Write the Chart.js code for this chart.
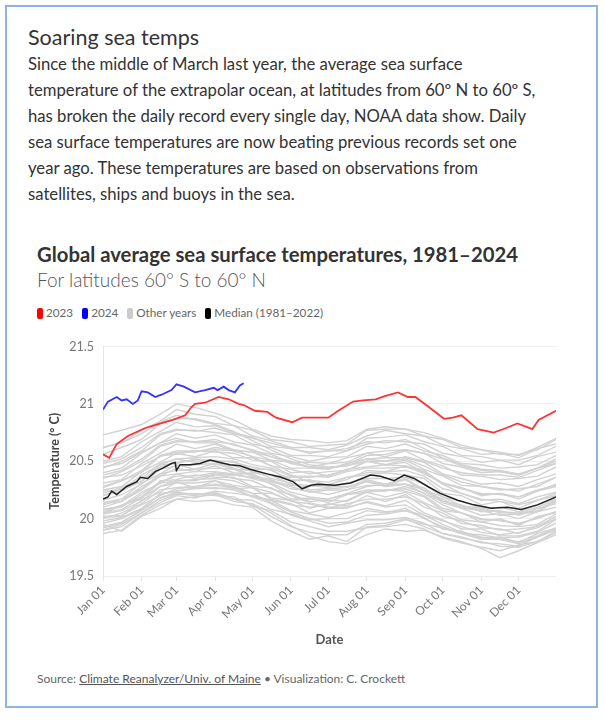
<!DOCTYPE html>
<html>
<head>
<meta charset="utf-8">
<script src="https://cdn.jsdelivr.net/npm/chart.js@4.4.0/dist/chart.umd.min.js"></script>
<style>
html, body { margin: 0; padding: 0; background: #fff; }
body { width: 604px; height: 720px; position: relative; overflow: hidden; font-family: Lato, "Open Sans", sans-serif; }
.frame { position: absolute; left: 5px; top: 5px; width: 593px; height: 703px; border: 2px solid #8fb4e3; box-sizing: border-box; }
h1 { position: absolute; left: 28px; top: 24px; margin: 0; font-size: 21.5px; font-weight: normal; color: #333; }
.lede { position: absolute; left: 28px; top: 51px; width: 570px; margin: 0; font-size: 16.7px; line-height: 26px; color: #333; white-space: nowrap; }
.ctitle { position: absolute; left: 37px; top: 242px; font-size: 20.3px; font-weight: bold; color: #333; }
.csub { position: absolute; left: 37px; top: 268px; font-size: 19px; font-weight: 300; color: #555; }
.legend { position: absolute; left: 37px; top: 305px; font-size: 11.7px; color: #666; white-space: nowrap; }
.sw { display: inline-block; width: 6px; height: 11px; border-radius: 2px; vertical-align: -2px; margin-right: 3px; }
.item { margin-right: 6px; }
.wrap { position: absolute; left: 30px; top: 330px; width: 540px; height: 330px; }
.source { position: absolute; left: 37px; top: 671px; font-size: 12px; color: #666; }
.source u { color: #555; }
</style>
</head>
<body>
<div class="frame"></div>
<h1>Soaring sea temps</h1>
<p class="lede">Since the middle of March last year, the average sea surface<br>temperature of the extrapolar ocean, at latitudes from 60º N to 60º S,<br>has broken the daily record every single day, NOAA data show. Daily<br>sea surface temperatures are now beating previous records set one<br>year ago. These temperatures are based on observations from<br>satellites, ships and buoys in the sea.</p>
<div class="ctitle">Global average sea surface temperatures, 1981–2024</div>
<div class="csub">For latitudes 60° S to 60° N</div>
<div class="legend">
  <span class="item"><span class="sw" style="background:#ff0000"></span>2023</span>
  <span class="item"><span class="sw" style="background:#0000ff"></span>2024</span>
  <span class="item"><span class="sw" style="background:#cccccc"></span>Other years</span>
  <span class="item"><span class="sw" style="background:#000000"></span>Median (1981–2022)</span>
</div>
<div class="wrap"><canvas id="sstChart"></canvas></div>
<div class="source">Source: <u>Climate Reanalyzer/Univ. of Maine</u> • Visualization: C. Crockett</div>

<script>
// axis ticks
const MONTH_DAYS = [0, 31, 59, 90, 120, 151, 181, 212, 243, 273, 304, 334];
const MONTH_LABELS = ['Jan 01', 'Feb 01', 'Mar 01', 'Apr 01', 'May 01', 'Jun 01', 'Jul 01', 'Aug 01', 'Sep 01', 'Oct 01', 'Nov 01', 'Dec 01'];
const TEMP_TICKS = [19.5, 20, 20.5, 21, 21.5];

// 2023 (day of year -> °C)
const days2023 = [0, 5, 11, 20, 34, 43, 56, 66, 71, 74, 82, 93, 101, 109, 113, 122, 132, 139, 152, 160, 176, 181, 189, 201, 209, 219, 227, 237, 245, 251, 261, 274, 281, 288, 301, 314, 324, 333, 345, 350, 364];
const temps2023 = [20.56, 20.53, 20.65, 20.72, 20.79, 20.82, 20.86, 20.90, 20.97, 21.0, 21.01, 21.06, 21.04, 21.0, 20.99, 20.94, 20.93, 20.88, 20.84, 20.88, 20.88, 20.88, 20.94, 21.02, 21.03, 21.04, 21.07, 21.10, 21.06, 21.06, 20.98, 20.87, 20.88, 20.90, 20.78, 20.75, 20.79, 20.83, 20.78, 20.86, 20.94];

// 2024 so far
const days2024 = [0, 4, 11, 15, 19, 24, 28, 31, 36, 42, 47, 55, 59, 65, 74, 82, 89, 92, 97, 101, 106, 110, 113];
const temps2024 = [20.95, 21.02, 21.06, 21.03, 21.04, 21.0, 21.03, 21.11, 21.10, 21.06, 21.08, 21.12, 21.17, 21.15, 21.10, 21.12, 21.14, 21.12, 21.15, 21.12, 21.10, 21.16, 21.18];

// median 1981-2022
const daysMedian = [0, 2, 4, 7, 11, 19, 27, 30, 36, 42, 48, 55, 58, 59, 62, 70, 78, 86, 94, 102, 110, 118, 132, 143, 153, 160, 167, 173, 186, 199, 215, 223, 234, 242, 250, 261, 271, 285, 298, 312, 325, 336, 349, 364];
const tempsMedian = [20.17, 20.18, 20.19, 20.24, 20.21, 20.28, 20.32, 20.36, 20.35, 20.41, 20.44, 20.48, 20.49, 20.42, 20.47, 20.47, 20.48, 20.51, 20.49, 20.47, 20.46, 20.43, 20.39, 20.36, 20.32, 20.26, 20.29, 20.30, 20.29, 20.31, 20.38, 20.37, 20.33, 20.38, 20.35, 20.28, 20.22, 20.16, 20.12, 20.09, 20.10, 20.08, 20.12, 20.19];

// other years, sampled about every two weeks
const daysOther = [0, 15, 31, 46, 59, 74, 90, 105, 120, 135, 151, 166, 181, 196, 212, 227, 243, 258, 273, 288, 304, 319, 334, 349, 364];
const otherYears = [
  [19.87, 19.90, 20.03, 20.12, 20.17, 20.15, 20.16, 20.12, 20.10, 19.98, 19.89, 19.82, 19.85, 19.80, 19.93, 19.94, 19.99, 19.95, 19.92, 19.87, 19.86, 19.83, 19.84, 19.88, 19.96],
  [19.95, 19.89, 20.02, 20.09, 20.17, 20.19, 20.21, 20.15, 20.13, 20.05, 19.94, 19.85, 19.80, 19.78, 19.86, 19.91, 19.89, 19.90, 19.84, 19.80, 19.74, 19.66, 19.72, 19.79, 19.86],
  [19.90, 19.95, 20.05, 20.16, 20.21, 20.22, 20.20, 20.19, 20.11, 20.07, 19.97, 19.93, 19.89, 19.89, 19.92, 19.93, 19.95, 19.91, 19.83, 19.79, 19.75, 19.72, 19.77, 19.80, 19.89],
  [19.98, 20.01, 20.09, 20.21, 20.24, 20.26, 20.27, 20.25, 20.19, 20.13, 20.03, 19.98, 19.93, 19.96, 19.99, 19.99, 20.01, 19.96, 19.87, 19.84, 19.79, 19.78, 19.76, 19.84, 19.90],
  [20.00, 20.05, 20.13, 20.25, 20.27, 20.28, 20.29, 20.27, 20.19, 20.16, 20.07, 20.04, 20.01, 20.05, 20.09, 20.06, 20.07, 20.01, 19.91, 19.89, 19.83, 19.84, 19.79, 19.87, 19.92],
  [20.04, 20.07, 20.15, 20.28, 20.31, 20.31, 20.33, 20.29, 20.27, 20.17, 20.13, 20.05, 20.09, 20.09, 20.15, 20.11, 20.16, 20.05, 19.99, 19.91, 19.91, 19.85, 19.85, 19.89, 19.99],
  [20.06, 20.11, 20.19, 20.31, 20.33, 20.34, 20.35, 20.33, 20.27, 20.23, 20.15, 20.13, 20.09, 20.13, 20.17, 20.17, 20.19, 20.13, 20.02, 19.98, 19.92, 19.91, 19.87, 19.94, 19.99],
  [20.08, 20.11, 20.23, 20.31, 20.39, 20.35, 20.39, 20.35, 20.33, 20.26, 20.21, 20.15, 20.16, 20.15, 20.23, 20.19, 20.23, 20.14, 20.07, 19.99, 19.97, 19.94, 19.93, 19.95, 20.04],
  [20.10, 20.15, 20.25, 20.37, 20.39, 20.41, 20.41, 20.39, 20.35, 20.31, 20.23, 20.19, 20.17, 20.21, 20.25, 20.25, 20.26, 20.20, 20.09, 20.05, 19.99, 19.99, 19.95, 20.01, 20.06],
  [20.12, 20.17, 20.26, 20.39, 20.42, 20.43, 20.44, 20.43, 20.37, 20.34, 20.26, 20.24, 20.21, 20.25, 20.29, 20.29, 20.30, 20.25, 20.14, 20.09, 20.03, 20.04, 20.00, 20.06, 20.10],
  [20.14, 20.17, 20.31, 20.39, 20.47, 20.43, 20.48, 20.43, 20.42, 20.35, 20.31, 20.25, 20.26, 20.27, 20.34, 20.30, 20.35, 20.25, 20.19, 20.11, 20.09, 20.05, 20.05, 20.07, 20.16],
  [20.05, 20.08, 20.18, 20.28, 20.33, 20.33, 20.38, 20.38, 20.40, 20.38, 20.36, 20.36, 20.38, 20.42, 20.50, 20.50, 20.54, 20.50, 20.44, 20.40, 20.38, 20.38, 20.36, 20.42, 20.48],
  [20.20, 20.24, 20.33, 20.45, 20.49, 20.51, 20.51, 20.49, 20.45, 20.42, 20.34, 20.33, 20.32, 20.36, 20.40, 20.41, 20.42, 20.37, 20.26, 20.22, 20.16, 20.17, 20.13, 20.19, 20.23],
  [20.22, 20.27, 20.35, 20.48, 20.52, 20.53, 20.54, 20.52, 20.47, 20.44, 20.37, 20.37, 20.36, 20.41, 20.44, 20.44, 20.45, 20.41, 20.31, 20.27, 20.21, 20.22, 20.19, 20.25, 20.29],
  [20.25, 20.28, 20.41, 20.49, 20.57, 20.54, 20.59, 20.53, 20.53, 20.46, 20.43, 20.39, 20.41, 20.42, 20.50, 20.47, 20.51, 20.43, 20.37, 20.29, 20.28, 20.25, 20.26, 20.28, 20.36],
  [20.45, 20.48, 20.58, 20.66, 20.70, 20.66, 20.66, 20.60, 20.54, 20.46, 20.38, 20.32, 20.28, 20.28, 20.32, 20.28, 20.30, 20.22, 20.12, 20.05, 20.00, 19.98, 19.96, 20.00, 20.06],
  [20.28, 20.33, 20.42, 20.55, 20.59, 20.59, 20.60, 20.59, 20.54, 20.51, 20.44, 20.44, 20.43, 20.48, 20.52, 20.53, 20.53, 20.49, 20.39, 20.35, 20.30, 20.31, 20.28, 20.34, 20.39],
  [19.92, 19.96, 20.08, 20.18, 20.22, 20.20, 20.24, 20.22, 20.20, 20.16, 20.12, 20.10, 20.12, 20.16, 20.24, 20.24, 20.28, 20.22, 20.15, 20.10, 20.08, 20.06, 20.05, 20.10, 20.16],
  [20.31, 20.34, 20.48, 20.57, 20.65, 20.61, 20.65, 20.59, 20.58, 20.51, 20.49, 20.45, 20.48, 20.49, 20.57, 20.54, 20.59, 20.51, 20.46, 20.38, 20.37, 20.34, 20.35, 20.37, 20.45],
  [20.35, 20.41, 20.50, 20.63, 20.67, 20.67, 20.67, 20.65, 20.59, 20.56, 20.49, 20.49, 20.48, 20.53, 20.57, 20.59, 20.60, 20.57, 20.48, 20.45, 20.40, 20.41, 20.38, 20.44, 20.48],
  [20.40, 20.44, 20.57, 20.66, 20.74, 20.70, 20.73, 20.67, 20.64, 20.57, 20.54, 20.50, 20.53, 20.54, 20.63, 20.61, 20.65, 20.59, 20.55, 20.48, 20.47, 20.44, 20.45, 20.47, 20.55],
  [20.02, 20.03, 20.12, 20.20, 20.26, 20.28, 20.30, 20.28, 20.22, 20.14, 20.06, 20.00, 19.96, 19.97, 20.03, 20.04, 20.07, 20.03, 19.98, 19.93, 19.88, 19.86, 19.88, 19.92, 20.00],
  [20.44, 20.50, 20.59, 20.73, 20.77, 20.77, 20.75, 20.73, 20.65, 20.62, 20.55, 20.55, 20.54, 20.59, 20.65, 20.68, 20.67, 20.65, 20.57, 20.54, 20.49, 20.51, 20.47, 20.54, 20.58],
  [20.36, 20.38, 20.46, 20.54, 20.58, 20.58, 20.62, 20.60, 20.58, 20.54, 20.50, 20.45, 20.44, 20.47, 20.55, 20.56, 20.60, 20.57, 20.52, 20.46, 20.42, 20.41, 20.38, 20.44, 20.52],
  [20.50, 20.54, 20.67, 20.76, 20.84, 20.80, 20.81, 20.75, 20.71, 20.63, 20.61, 20.57, 20.59, 20.59, 20.70, 20.71, 20.73, 20.67, 20.63, 20.55, 20.54, 20.51, 20.51, 20.55, 20.63],
  [20.62, 20.66, 20.74, 20.84, 20.90, 20.86, 20.82, 20.76, 20.68, 20.60, 20.52, 20.47, 20.45, 20.46, 20.52, 20.50, 20.52, 20.46, 20.38, 20.32, 20.28, 20.26, 20.24, 20.30, 20.36],
  [20.56, 20.62, 20.69, 20.83, 20.87, 20.87, 20.83, 20.81, 20.72, 20.68, 20.62, 20.62, 20.60, 20.64, 20.72, 20.77, 20.74, 20.72, 20.64, 20.61, 20.56, 20.57, 20.53, 20.61, 20.65],
  [20.62, 20.66, 20.77, 20.85, 20.95, 20.91, 20.89, 20.81, 20.77, 20.69, 20.67, 20.63, 20.64, 20.65, 20.77, 20.78, 20.78, 20.72, 20.69, 20.62, 20.60, 20.56, 20.56, 20.60, 20.69],
  [20.73, 20.77, 20.82, 20.91, 21.00, 20.97, 20.92, 20.86, 20.78, 20.72, 20.69, 20.68, 20.66, 20.68, 20.78, 20.80, 20.78, 20.75, 20.70, 20.64, 20.60, 20.58, 20.55, 20.62, 20.70],
  [20.16, 20.21, 20.30, 20.43, 20.46, 20.47, 20.48, 20.46, 20.41, 20.38, 20.30, 20.29, 20.27, 20.31, 20.35, 20.35, 20.36, 20.30, 20.19, 20.15, 20.09, 20.10, 20.06, 20.12, 20.17],
  [20.04, 20.12, 20.17, 20.33, 20.34, 20.38, 20.36, 20.36, 20.28, 20.27, 20.17, 20.18, 20.14, 20.21, 20.23, 20.25, 20.24, 20.19, 20.07, 20.05, 19.97, 20.00, 19.94, 20.02, 20.05],
  [19.96, 20.00, 20.08, 20.22, 20.24, 20.27, 20.26, 20.27, 20.22, 20.22, 20.16, 20.17, 20.17, 20.22, 20.28, 20.30, 20.30, 20.27, 20.15, 20.12, 20.06, 20.07, 20.03, 20.09, 20.13],
  [20.24, 20.25, 20.38, 20.47, 20.52, 20.49, 20.50, 20.44, 20.38, 20.30, 20.20, 20.14, 20.10, 20.10, 20.14, 20.10, 20.12, 20.03, 19.95, 19.88, 19.84, 19.82, 19.80, 19.85, 19.92],
  [20.01, 20.02, 20.16, 20.23, 20.32, 20.27, 20.33, 20.26, 20.27, 20.18, 20.16, 20.09, 20.13, 20.11, 20.20, 20.15, 20.21, 20.10, 20.05, 19.96, 19.94, 19.90, 19.91, 19.93, 20.02],
  [20.27, 20.33, 20.40, 20.55, 20.56, 20.59, 20.58, 20.57, 20.51, 20.50, 20.40, 20.41, 20.37, 20.43, 20.45, 20.47, 20.46, 20.42, 20.30, 20.27, 20.20, 20.22, 20.17, 20.24, 20.28],
  [19.90, 19.93, 20.05, 20.14, 20.20, 20.18, 20.23, 20.17, 20.16, 20.08, 20.04, 19.99, 20.00, 20.00, 20.07, 20.05, 20.09, 20.00, 19.93, 19.87, 19.82, 19.82, 19.78, 19.84, 19.91],
  [20.38, 20.42, 20.52, 20.64, 20.68, 20.67, 20.69, 20.64, 20.60, 20.54, 20.48, 20.45, 20.44, 20.46, 20.50, 20.47, 20.49, 20.40, 20.30, 20.22, 20.17, 20.15, 20.12, 20.16, 20.22],
  [20.13, 20.15, 20.28, 20.37, 20.44, 20.41, 20.46, 20.40, 20.39, 20.32, 20.28, 20.23, 20.25, 20.25, 20.33, 20.29, 20.34, 20.24, 20.17, 20.09, 20.07, 20.03, 20.04, 20.06, 20.15],
  [20.48, 20.52, 20.62, 20.74, 20.78, 20.76, 20.79, 20.74, 20.70, 20.66, 20.61, 20.58, 20.59, 20.61, 20.67, 20.66, 20.69, 20.61, 20.53, 20.47, 20.43, 20.42, 20.39, 20.44, 20.50],
  [20.08, 20.10, 20.21, 20.32, 20.37, 20.37, 20.40, 20.38, 20.36, 20.33, 20.29, 20.28, 20.30, 20.34, 20.42, 20.41, 20.46, 20.39, 20.31, 20.26, 20.22, 20.21, 20.19, 20.24, 20.30],
  [19.93, 19.97, 20.07, 20.18, 20.23, 20.21, 20.22, 20.17, 20.12, 20.02, 19.93, 19.88, 19.86, 19.86, 19.95, 19.96, 20.00, 19.93, 19.87, 19.83, 19.80, 19.76, 19.75, 19.80, 19.88],
  [20.20, 20.26, 20.32, 20.47, 20.48, 20.52, 20.50, 20.50, 20.43, 20.43, 20.33, 20.34, 20.29, 20.36, 20.38, 20.40, 20.38, 20.35, 20.22, 20.20, 20.12, 20.15, 20.09, 20.16, 20.20]
];

function toPoints(days, temps) {
  return days.map((d, i) => ({ x: d, y: temps[i] }));
}

const datasets = [
  { label: '2024', data: toPoints(days2024, temps2024), borderColor: '#3333ff', borderWidth: 1.8, order: 0 },
  { label: '2023', data: toPoints(days2023, temps2023), borderColor: '#ff3333', borderWidth: 1.8, order: 1 },
  { label: 'Median (1981–2022)', data: toPoints(daysMedian, tempsMedian), borderColor: '#222222', borderWidth: 1.5, order: 2 }
];
otherYears.forEach(function(temps) {
  datasets.push({ label: 'Other years', data: toPoints(daysOther, temps), borderColor: '#d2d2d2', borderWidth: 1.4, order: 3 });
});

const ctx = document.getElementById('sstChart').getContext('2d');
new Chart(ctx, {
  type: 'line',
  data: { datasets: datasets },
  options: {
    responsive: true,
    maintainAspectRatio: false,
    animation: false,
    elements: { point: { radius: 0 }, line: { tension: 0 } },
    layout: { padding: { top: 12, right: 14, left: 0, bottom: 0 } },
    plugins: { legend: { display: false }, tooltip: { enabled: false } },
    scales: {
      x: {
        type: 'linear',
        min: 0,
        max: 364,
        afterBuildTicks: function(scale) { scale.ticks = MONTH_DAYS.map(d => ({ value: d })); },
        afterFit: function(scale) { scale.height = 84; },
        ticks: {
          callback: (v, i) => MONTH_LABELS[i],
          minRotation: 45,
          maxRotation: 45,
          color: '#777',
          font: { family: 'Lato', size: 12 },
          padding: 2
        },
        grid: { drawOnChartArea: false, drawTicks: true, tickLength: 5, color: '#e4e4e4' },
        border: { display: false },
        title: {
          display: true,
          text: 'Date',
          color: '#555',
          font: { family: 'Lato', size: 13, weight: 'bold' },
          padding: { top: 0, bottom: 12 }
        }
      },
      y: {
        min: 19.5,
        max: 21.5,
        afterBuildTicks: function(scale) { scale.ticks = TEMP_TICKS.map(v => ({ value: v })); },
        afterFit: function(scale) { scale.width = 73; },
        ticks: {
          callback: v => String(v),
          color: '#777',
          font: { family: 'Lato', size: 12.5 },
          padding: 9
        },
        grid: { color: '#eeeeee', drawTicks: false },
        border: { display: true, color: '#e4e4e4' },
        title: {
          display: true,
          text: 'Temperature (° C)',
          color: '#444',
          font: { family: 'Lato', size: 12.5, weight: 'bold' },
          padding: { top: 17, bottom: 0 }
        }
      }
    }
  }
});
</script>
</body>
</html>
